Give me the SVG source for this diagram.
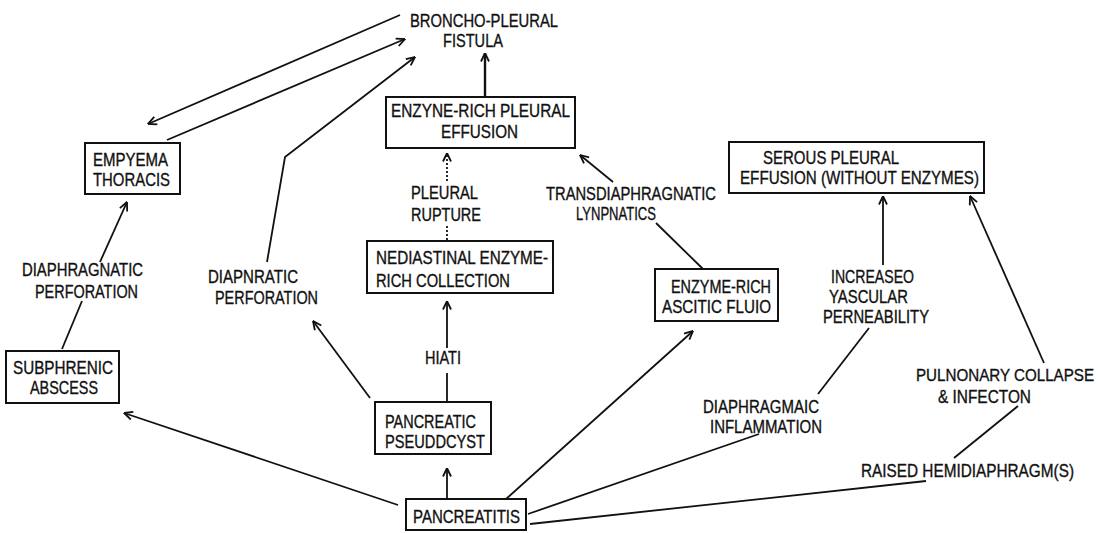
<svg xmlns="http://www.w3.org/2000/svg" width="1120" height="533" viewBox="0 0 1120 533">
<defs>
<marker id="ah" viewBox="0 0 10 10" refX="9.5" refY="5" markerWidth="10" markerHeight="10" markerUnits="userSpaceOnUse" orient="auto">
<path d="M1,1 L9.5,5 L1,9" fill="none" stroke="#111" stroke-width="1.8"/>
</marker>
<style>
text{font-family:"Liberation Sans Narrow","Liberation Sans",Arial,sans-serif;font-size:18px;fill:#111;stroke:#111;stroke-width:0.35}
rect{fill:none;stroke:#111;stroke-width:2}
.c line,.c polyline{stroke:#111;stroke-width:1.8;fill:none}
.a{marker-end:url(#ah)}
.d{stroke-dasharray:2 2}
</style>
</defs>
<rect x="0" y="0" width="1120" height="533" style="fill:#fff;stroke:none"/>
<g class="c" id="connectors">
<line class="a" x1="400" y1="15" x2="148" y2="124"/>
<line class="a" x1="167" y1="140" x2="405" y2="39"/>
<polyline class="a" points="267,262 285,157 415,57"/>
<line class="a" x1="485" y1="96" x2="485" y2="53" style="stroke-width:2.4"/>
<line class="d" x1="447" y1="240" x2="447" y2="226"/>
<line class="a d" x1="447" y1="181" x2="447" y2="153"/>
<line class="a" x1="613" y1="182" x2="580" y2="155"/>
<line x1="656" y1="223" x2="703" y2="269"/>
<line class="a" x1="100" y1="262" x2="127" y2="202"/>
<line x1="62" y1="349" x2="82" y2="301"/>
<line class="a" x1="370" y1="398" x2="313" y2="321"/>
<line x1="447" y1="401" x2="447" y2="373"/>
<line class="a" x1="447" y1="348" x2="447" y2="301"/>
<line class="a" x1="447" y1="500" x2="447" y2="468"/>
<line class="a" x1="398" y1="505" x2="124" y2="413"/>
<line class="a" x1="506" y1="499" x2="693" y2="331"/>
<line x1="528" y1="514" x2="759" y2="434"/>
<line x1="818" y1="394" x2="869" y2="328"/>
<line class="a" x1="883" y1="265" x2="883" y2="196"/>
<line x1="530" y1="524" x2="926" y2="481"/>
<line x1="954" y1="458" x2="1018" y2="406"/>
<line class="a" x1="1044" y1="363" x2="970" y2="196"/>
</g>
<g id="bronchopleural-fistula">
<text x="410" y="27" textLength="148" lengthAdjust="spacingAndGlyphs">BRONCHO-PLEURAL</text>
<text x="443" y="47" textLength="60" lengthAdjust="spacingAndGlyphs">FISTULA</text>
</g>
<g id="enzyme-rich-pleural-effusion">
<rect x="386" y="97" width="189" height="51"/>
<text x="391" y="117" textLength="179" lengthAdjust="spacingAndGlyphs">ENZYNE-RICH PLEURAL</text>
<text x="441" y="138" textLength="77" lengthAdjust="spacingAndGlyphs">EFFUSION</text>
</g>
<g id="pleural-rupture">
<text x="411" y="199" textLength="67" lengthAdjust="spacingAndGlyphs">PLEURAL</text>
<text x="411" y="221" textLength="70" lengthAdjust="spacingAndGlyphs">RUPTURE</text>
</g>
<g id="transdiaphragmatic">
<text x="546" y="200" textLength="170" lengthAdjust="spacingAndGlyphs">TRANSDIAPHRAGNATIC</text>
<text x="576" y="220" textLength="80" lengthAdjust="spacingAndGlyphs">LYNPNATICS</text>
</g>
<g id="empyema-thoracis">
<rect x="85" y="143" width="95" height="51"/>
<text x="93" y="166" textLength="75" lengthAdjust="spacingAndGlyphs">EMPYEMA</text>
<text x="93" y="186" textLength="77" lengthAdjust="spacingAndGlyphs">THORACIS</text>
</g>
<g id="serous-pleural-effusion">
<rect x="729" y="142" width="255" height="51"/>
<text x="763" y="164" textLength="136" lengthAdjust="spacingAndGlyphs">SEROUS PLEURAL</text>
<text x="740" y="184" textLength="239" lengthAdjust="spacingAndGlyphs">EFFUSION (WITHOUT ENZYMES)</text>
</g>
<g id="diaphragmatic-perforation-left">
<text x="22" y="276" textLength="121" lengthAdjust="spacingAndGlyphs">DIAPHRAGNATIC</text>
<text x="35" y="298" textLength="103" lengthAdjust="spacingAndGlyphs">PERFORATION</text>
</g>
<g id="diaphragmatic-perforation-mid">
<text x="208" y="283" textLength="90" lengthAdjust="spacingAndGlyphs">DIAPNRATIC</text>
<text x="215" y="304" textLength="103" lengthAdjust="spacingAndGlyphs">PERFORATION</text>
</g>
<g id="mediastinal-collection">
<rect x="367" y="241" width="186" height="52"/>
<text x="376" y="264" textLength="172" lengthAdjust="spacingAndGlyphs">NEDIASTINAL ENZYME-</text>
<text x="376" y="287" textLength="134" lengthAdjust="spacingAndGlyphs">RICH COLLECTION</text>
</g>
<g id="hiati">
<text x="425" y="364" textLength="36" lengthAdjust="spacingAndGlyphs">HIATI</text>
</g>
<g id="ascitic-fluid">
<rect x="655" y="269" width="123" height="52"/>
<text x="671" y="293" textLength="100" lengthAdjust="spacingAndGlyphs">ENZYME-RICH</text>
<text x="662" y="313" textLength="109" lengthAdjust="spacingAndGlyphs">ASCITIC FLUIO</text>
</g>
<g id="vascular-permeability">
<text x="831" y="283" textLength="83" lengthAdjust="spacingAndGlyphs">INCREASEO</text>
<text x="829" y="303" textLength="79" lengthAdjust="spacingAndGlyphs">YASCULAR</text>
<text x="823" y="323" textLength="106" lengthAdjust="spacingAndGlyphs">PERNEABILITY</text>
</g>
<g id="subphrenic-abscess">
<rect x="6" y="351" width="113" height="52"/>
<text x="13" y="374" textLength="100" lengthAdjust="spacingAndGlyphs">SUBPHRENIC</text>
<text x="30" y="394" textLength="68" lengthAdjust="spacingAndGlyphs">ABSCESS</text>
</g>
<g id="pancreatic-pseudocyst">
<rect x="375" y="402" width="116" height="52"/>
<text x="385" y="428" textLength="91" lengthAdjust="spacingAndGlyphs">PANCREATIC</text>
<text x="385" y="448" textLength="100" lengthAdjust="spacingAndGlyphs">PSEUDDCYST</text>
</g>
<g id="diaphragmatic-inflammation">
<text x="703" y="413" textLength="116" lengthAdjust="spacingAndGlyphs">DIAPHRAGMAIC</text>
<text x="710" y="433" textLength="112" lengthAdjust="spacingAndGlyphs">INFLAMMATION</text>
</g>
<g id="pulmonary-collapse">
<text x="916" y="381" style="font-size:17px" textLength="178" lengthAdjust="spacingAndGlyphs">PULNONARY COLLAPSE</text>
<text x="938" y="403" textLength="93" lengthAdjust="spacingAndGlyphs">&amp; INFECTON</text>
</g>
<g id="raised-hemidiaphragm">
<text x="861" y="477" textLength="213" lengthAdjust="spacingAndGlyphs">RAISED HEMIDIAPHRAGM(S)</text>
</g>
<g id="pancreatitis">
<rect x="406" y="499" width="120" height="31"/>
<text x="413" y="523" textLength="107" lengthAdjust="spacingAndGlyphs">PANCREATITIS</text>
</g>
</svg>
